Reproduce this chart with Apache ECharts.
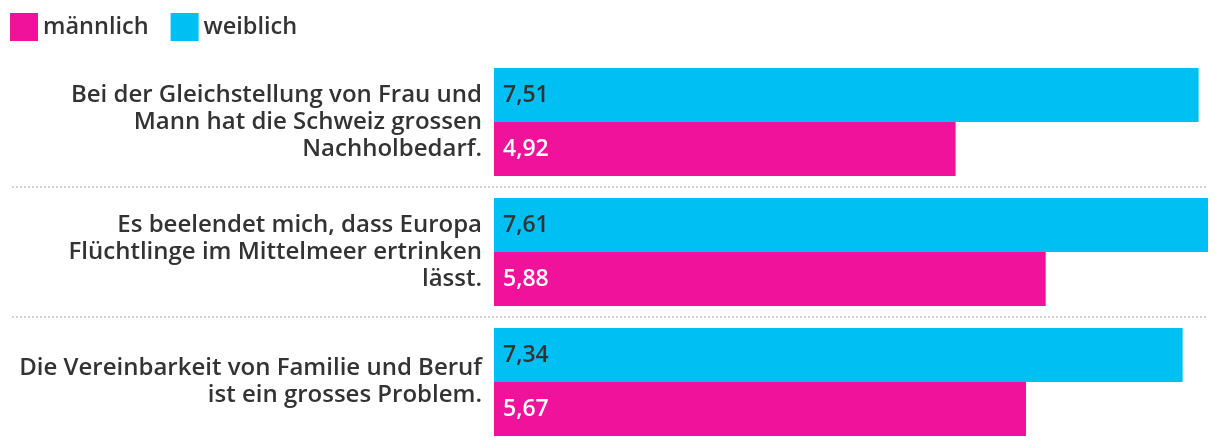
<!DOCTYPE html>
<html>
<head>
<meta charset="utf-8">
<script src="https://cdn.jsdelivr.net/npm/echarts@6/dist/echarts.min.js"></script>
<style>
html,body{margin:0;padding:0;background:#fff;}
#chart{width:1220px;height:448px;}
</style>
</head>
<body>
<div id="chart"></div>
<script>
const categories = [
  'Bei der Gleichstellung von Frau und\nMann hat die Schweiz grossen\nNachholbedarf.',
  'Es beelendet mich, dass Europa\nFlüchtlinge im Mittelmeer ertrinken\nlässt.',
  'Die Vereinbarkeit von Familie und Beruf\nist ein grosses Problem.'
];
const weiblich = [7.51, 7.61, 7.34];
const maennlich = [4.92, 5.88, 5.67];
const seriesNames = ['männlich', 'weiblich'];

const fmt = p => p.value.toFixed(2).replace('.', ',');
const FONT = '"Open Sans", sans-serif';

const chart = echarts.init(document.getElementById('chart'), null, {renderer: 'canvas'});
chart.setOption({
  animation: false,
  textStyle: {fontFamily: FONT},
  legend: {
    data: seriesNames,
    left: 10, top: 13, padding: 0,
    itemWidth: 28, itemHeight: 28, itemGap: 22,
    icon: 'rect',
    textStyle: {fontFamily: FONT, fontSize: 23.5, fontWeight: 600, color: '#333'}
  },
  grid: {left: 12, right: 12, top: 57, bottom: 1, containLabel: false, outerBoundsMode: 'none'},
  xAxis: {
    type: 'value',
    min: -5.137, max: 7.61,
    axisLine: {show: false},
    axisTick: {show: false},
    axisLabel: {show: false},
    splitLine: {show: false}
  },
  yAxis: {
    type: 'category',
    data: categories,
    inverse: true,
    position: 'left',
    offset: -482,
    axisLine: {show: false, onZero: false},
    axisTick: {show: false},
    axisLabel: {
      fontFamily: FONT, fontSize: 24, fontWeight: 600, color: '#333', lineHeight: 27,
      margin: 12, align: 'right'
    },
    splitLine: {
      show: true, showMinLine: false, showMaxLine: false,
      lineStyle: {color: '#d4d4d4', width: 2, type: [2, 2]}
    }
  },
  series: [
    {
      name: 'weiblich', type: 'bar', data: weiblich,
      barWidth: 54, barGap: '0%',
      itemStyle: {color: '#00c0f3'},
      label: {show: true, position: 'insideLeft', distance: 9, formatter: fmt,
        fontFamily: FONT, fontSize: 23, fontWeight: 600, color: '#333'}
    },
    {
      name: 'männlich', type: 'bar', data: maennlich,
      barWidth: 54, barGap: '0%',
      itemStyle: {color: '#f0129a'},
      label: {show: true, position: 'insideLeft', distance: 9, formatter: fmt,
        fontFamily: FONT, fontSize: 23, fontWeight: 600, color: '#fff'}
    }
  ]
});
</script>
</body>
</html>
